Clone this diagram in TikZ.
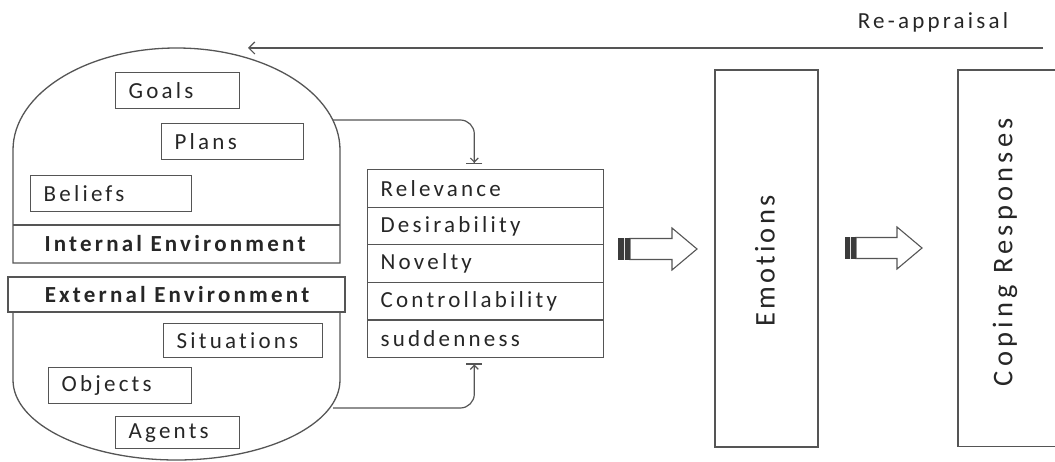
\documentclass[tikz,border=0pt]{standalone}
\usepackage{fontspec}
\setmainfont{Carlito}
\newfontfamily\lblfont{Carlito}[LetterSpace=14,Ligatures={NoCommon}]
\newfontfamily\vfont{Carlito}[LetterSpace=15,Ligatures={NoCommon}]
\newfontfamily\vfontb{Carlito}[LetterSpace=11,Ligatures={NoCommon}]
\usetikzlibrary{arrows.meta}
\definecolor{ln}{HTML}{555555}
\definecolor{tx}{HTML}{262626}
\begin{document}
\begin{tikzpicture}[x=1pt,y=-1pt,
  line width=1.3pt,
  every node/.style={text=tx},
  lbl/.style={font=\lblfont\fontsize{23}{25}\selectfont},
  itembox/.style={lbl,draw=ln,anchor=north west,inner xsep=13pt,inner ysep=0pt,align=left},
  rowbox/.style={lbl,draw=ln,anchor=north west,minimum width=236pt,minimum height=37.6pt,
    text width=210pt,inner xsep=13pt,inner ysep=0pt,align=left},
  envbox/.style={font=\lblfont\bfseries\fontsize{23}{25}\selectfont,inner sep=0pt},
  vlabel/.style={font=\vfont\fontsize{28.5}{30}\selectfont,rotate=90},
  link/.style={draw=ln,line width=1.2pt,rounded corners=14pt,
    -{Straight Barb[length=4pt,width=8pt]Bar[width=16pt]},shorten >=5pt},
  blockarrow/.style={draw=ln,line width=1.1pt,fill=white}
]
\useasboundingbox (0,0) rectangle (1055,462);

% ---------- internal environment (dome) ----------
\draw[ln] (13,263) -- (13,150)
  .. controls (13,93.7) and (86.2,48) .. (176.5,48)
  .. controls (266.8,48) and (340,93.7) .. (340,150) -- (340,263) -- cycle;
\draw[ln] (13,225) -- (340,225);
\node[envbox] (internal) at (175,244) {Internal Environment};
\coordinate (domeout) at (333,120);

\node[itembox,minimum width=124pt,minimum height=36pt,text width=98pt] (goals) at (115,72) {Goals};
\node[itembox,minimum width=142pt,minimum height=36pt,text width=116pt] (plans) at (161,123) {Plans};
\node[itembox,minimum width=161pt,minimum height=36pt,text width=135pt] (beliefs) at (30,175) {Beliefs};

% ---------- external environment (bowl) ----------
\draw[ln] (13,312) -- (13,380)
  .. controls (13,424.2) and (86.2,460) .. (176.5,460)
  .. controls (266.8,460) and (340,424.2) .. (340,380) -- (340,312);
\draw[ln,fill=white] (8,277) rectangle (345,312);
\node[envbox] (external) at (177,295) {External Environment};
\coordinate (bowlout) at (333,408);

\node[itembox,minimum width=159pt,minimum height=34pt,text width=133pt] (situations) at (163,323) {Situations};
\node[itembox,minimum width=143pt,minimum height=36pt,text width=117pt] (objects) at (48,367) {Objects};
\node[itembox,minimum width=124pt,minimum height=32pt,text width=98pt] (agents) at (115,416) {Agents};

% ---------- appraisal variables ----------
\node[rowbox] (relevance) at (367,169) {Relevance};
\node[rowbox] (desirability) at (367,206.6) {Desirability};
\node[rowbox] (novelty) at (367,244.2) {Novelty};
\node[rowbox] (control) at (367,281.8) {Controllability};
\node[rowbox] (sudden) at (367,319.4) {suddenness};

\draw[link] (domeout) -| ([xshift=-130pt]relevance.north east);
\draw[link] (bowlout) -| ([xshift=-130pt]sudden.south east);

% ---------- emotions and coping ----------
\node[draw=ln,minimum width=103pt,minimum height=377pt,inner sep=0pt] (emotions) at (766.5,258.5) {};
\node[vlabel,font=\vfontb\fontsize{28.5}{30}\selectfont] (emotext) at (765,261) {Emotions};

\node[minimum width=110pt,minimum height=375pt,inner sep=0pt,anchor=north west] (coping) at (958,70) {};
\draw[ln] (coping.north east) -- (coping.north west) -- (coping.south west) -- (coping.south east);
\node[vlabel] (copetext) at (1005,252) {Coping Responses};

% ---------- block arrows ----------
\coordinate (barA) at (618,249);
\draw[blockarrow] (630,238.5) -- (672,238.5) -- (672,228) -- (697,249) -- (672,270) -- (672,259.5) -- (630,259.5) -- cycle;
\fill[ln!70!black] (618,238) rectangle (630,260);
\draw[white!80!gray,line width=0.8pt] (624,238) -- (624,260);

\coordinate (barB) at (845,248);
\draw[blockarrow] (856,237.5) -- (897,237.5) -- (897,227) -- (922,248) -- (897,269) -- (897,258.5) -- (856,258.5) -- cycle;
\fill[ln!70!black] (845,237) rectangle (856,259);
\draw[white!80!gray,line width=0.8pt] (850.5,237) -- (850.5,259);

% ---------- re-appraisal loop ----------
\coordinate (loopstart) at (1043,48);
\coordinate (loopend) at (248,48);
\draw[ln,line width=1.2pt,-{Straight Barb[length=6pt,width=12pt]}] (loopstart) -- (loopend);
\node[lbl] (reappraisal) at (933,22) {Re-appraisal};
\end{tikzpicture}
\end{document}
